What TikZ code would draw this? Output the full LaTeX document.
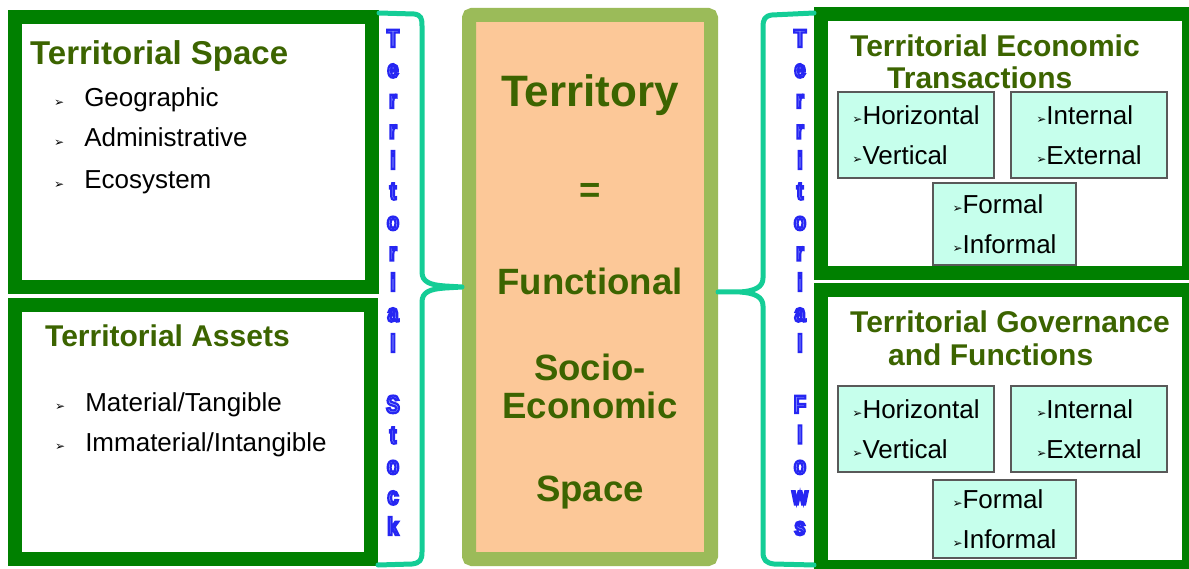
\documentclass[tikz,border=0pt]{standalone}
\usepackage{fontspec}
\setmainfont{Liberation Sans}
\newfontfamily\dingfont{DejaVu Sans}
\newfontfamily\stackfont{Liberation Sans}[FakeStretch=0.8]
\usepackage{tikz}

\definecolor{framegreen}{RGB}{0,128,0}
\definecolor{titlegreen}{RGB}{60,100,0}
\definecolor{centreborder}{RGB}{155,187,89}
\definecolor{centrefill}{RGB}{252,200,152}
\definecolor{bracegreen}{RGB}{20,205,150}
\definecolor{boxcyan}{RGB}{198,255,236}
\definecolor{letterfill}{RGB}{165,180,255}

\newcommand{\bul}{\raisebox{0.5pt}{\dingfont\fontsize{12}{12}\selectfont ➢}}
% outlined letter: light fill, blue stroke
\newcommand{\vletter}[1]{\textcolor{letterfill}{\special{pdf:literal direct 2 Tr 2.2 w 0.15 0.15 0.95 RG}#1\special{pdf:literal direct 0 Tr}}}

\tikzset{
  greenframe/.style={draw=framegreen, line width=14pt, fill=white, inner sep=0pt},
  cyanbox/.style={draw=black!65, line width=1.2pt, fill=boxcyan, align=left, inner sep=0pt,
    font=\fontsize{26}{40}\selectfont},
  heading/.style={text=titlegreen, inner sep=0pt, anchor=base west, font=\bfseries\fontsize{30}{32}\selectfont},
  centretext/.style={text=titlegreen, inner sep=0pt, anchor=base, font=\bfseries\fontsize{36.6}{38}\selectfont},
  listitem/.style={inner sep=0pt, anchor=base west, font=\fontsize{26}{28}\selectfont},
  stackletter/.style={inner sep=0pt, anchor=base, font=\stackfont\bfseries\fontsize{25}{25}\selectfont},
  brace/.style={draw=bracegreen, line width=5pt, line cap=round, line join=round}
}

\begin{document}
\begin{tikzpicture}[x=1pt,y=1pt,yscale=-1,xscale=1]
    \useasboundingbox (0,0) rectangle (1189,569);

    %Shape: Rectangle [territorial space]
    \node[greenframe, minimum width=357pt, minimum height=270pt] (space) at (193.5,152) {};
    %Shape: Rectangle [territorial assets]
    \node[greenframe, minimum width=356pt, minimum height=254pt] (assets) at (193,432) {};
    %Shape: Rectangle [centre]
    \node[draw=centreborder, fill=centrefill, line width=14pt, rounded corners=3pt, inner sep=0pt,
      minimum width=242pt, minimum height=544pt] (centre) at (590,287) {};
    %Shape: Rectangle [economic transactions]
    \node[greenframe, minimum width=368pt, minimum height=259pt] (econ) at (1005,143.5) {};
    %Shape: Rectangle [governance]
    \node[greenframe, minimum width=368pt, minimum height=277pt] (gov) at (1005,428.5) {};

    %Brace left
    \draw[brace] ([yshift=3pt]space.north east) -- (414,14) .. controls (421,15) and (422,18) .. (422,26)
      -- (422,272) .. controls (422,282) and (430,285) .. (445,286) -- (centre.west)
      -- (445,288) .. controls (430,289) and (422,292) .. (422,302)
      -- (422,552) .. controls (422,560) and (420,563) .. (412,564) -- ([yshift=-1pt]assets.south east);
    %Brace right
    \draw[brace] ([yshift=6pt]econ.north west) -- (772,15) .. controls (765,16) and (763,19) .. (763,27)
      -- (763,278) .. controls (763,287) and (755,291) .. (740,292) -- ([yshift=5pt]centre.east)
      -- (740,292) .. controls (755,293) and (763,297) .. (763,306)
      -- (763,552) .. controls (763,560) and (766,563) .. (774,564) -- ([yshift=-9pt]gov.south west);

    % Vertical letters
    \foreach \ch [count=\i from 0] in {T,e,r,r,i,t,o,r,i,a,l,{},S,t,o,c,k}
      \node[stackletter] (stock\i) at (393,{47+30.5*\i}) {\vletter{\ch}};
    \foreach \ch [count=\i from 0] in {T,e,r,r,i,t,o,r,i,a,l,{},F,l,o,w,s}
      \node[stackletter] (flows\i) at (800,{47+30.5*\i}) {\vletter{\ch}};

    % Text Node
    \node[heading, font=\bfseries\fontsize{33}{35}\selectfont] (spacetitle) at (30,65) {Territorial Space};
    \node[listitem] (geo) at (54,107) {\bul\hspace{20pt}Geographic};
    \node[listitem] (admin) at (54,147) {\bul\hspace{20pt}Administrative};
    \node[listitem] (eco) at (54,189) {\bul\hspace{20pt}Ecosystem};
    % Text Node
    \node[heading] (assetstitle) at (45,347) {Territorial Assets};
    \node[listitem] (mat) at (55,411) {\bul\hspace{20pt}Material/Tangible};
    \node[listitem] (immat) at (55,451) {\bul\hspace{20pt}Immaterial/Intangible};

    % Text Node
    \node[centretext, font=\bfseries\fontsize{44}{46}\selectfont] (territory) at (590,107) {Territory};
    \node[centretext] (equals) at (590,203) {=};
    \node[centretext] (functional) at (590,295) {Functional};
    \node[centretext] (socio) at (590,380) {Socio-};
    \node[centretext] (economic) at (590,418) {Economic};
    \node[centretext] (spc) at (590,501) {Space};

    % Text Node
    \node[heading] (econtitle) at (850,57) {Territorial Economic};
    \node[heading] (econtitleb) at (887,89) {Transactions};
    \node[cyanbox, minimum width=156pt, minimum height=86pt] (hv) at (916,135) {\bul Horizontal\\\bul Vertical};
    \node[cyanbox, minimum width=156pt, minimum height=86pt] (ie) at (1089,135) {\bul Internal\\\bul External};
    \node[cyanbox, minimum width=143pt, minimum height=82pt] (fi) at (1004.5,224) {\bul Formal\\\bul Informal};

    % Text Node
    \node[heading] (govtitle) at (850,333) {Territorial Governance};
    \node[heading] (govtitleb) at (888,366) {and Functions};
    \node[cyanbox, minimum width=156pt, minimum height=86pt] (hvb) at (916,429) {\bul Horizontal\\\bul Vertical};
    \node[cyanbox, minimum width=156pt, minimum height=86pt] (ieb) at (1089,429) {\bul Internal\\\bul External};
    \node[cyanbox, minimum width=143pt, minimum height=78pt] (fib) at (1004.5,519) {\bul Formal\\\bul Informal};

\end{tikzpicture}
\end{document}
